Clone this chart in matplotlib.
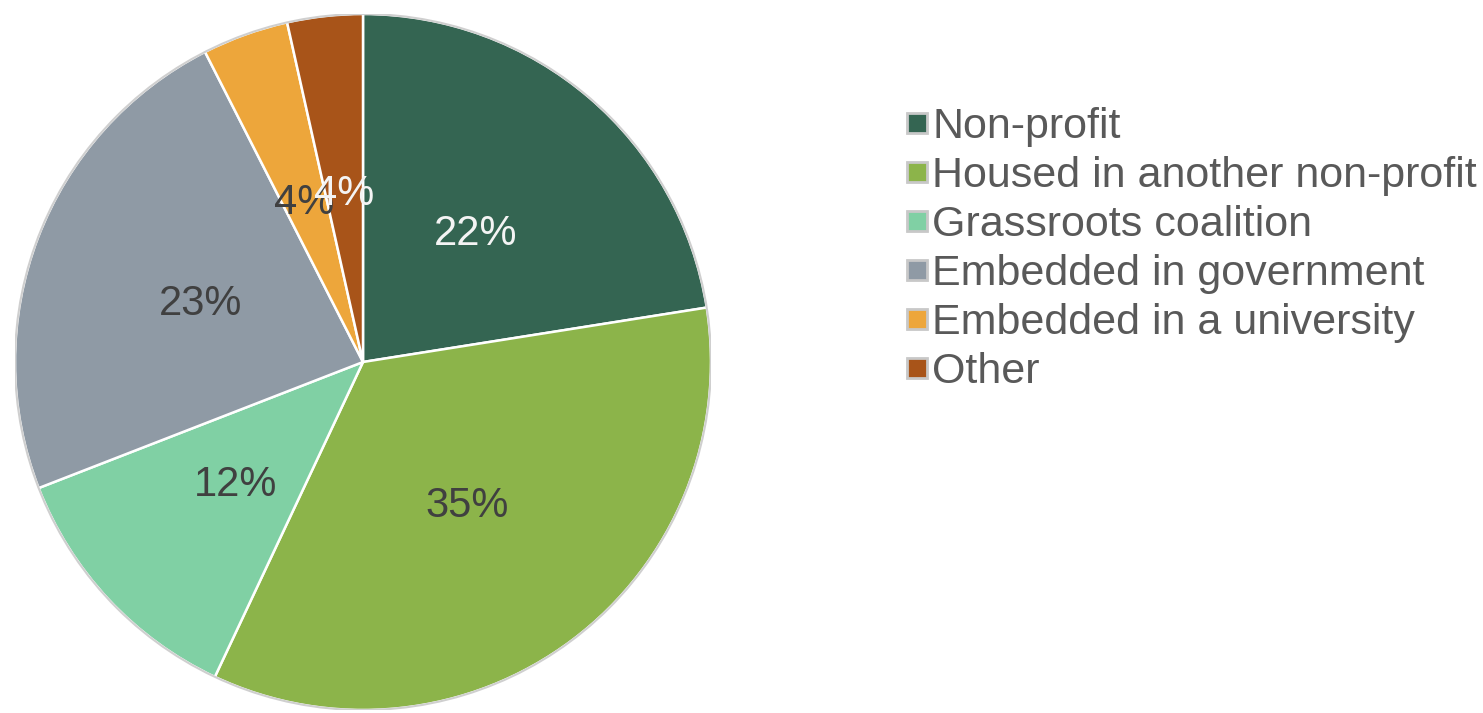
import matplotlib.pyplot as plt
from matplotlib.lines import Line2D
from matplotlib.patches import Circle

categories = ["Non-profit", "Housed in another non-profit", "Grassroots coalition",
              "Embedded in government", "Embedded in a university", "Other"]
shares = [22.5, 34.5, 12.1, 23.4, 4.0, 3.5]
pct_labels = ["22%", "35%", "12%", "23%", "4%", "4%"]
colors = ["#346552", "#8cb44a", "#80d0a4", "#8f9aa5", "#eda63b", "#a85419"]
label_colors = ["#f4f4f4", "#404040", "#404040", "#404040", "#404040", "#f4f4f4"]

W, H = 1483, 713
fig = plt.figure(figsize=(W / 100, H / 100), dpi=100)
plt.rcParams['font.family'] = ['Liberation Sans', 'DejaVu Sans']

# pie: center (363, 362) px, radius 348 px
cx, cy, r = 363, 362, 348
ax = fig.add_axes([(cx - r) / W, (H - cy - r) / H, 2 * r / W, 2 * r / H])
wedges, texts, autotexts = ax.pie(
    shares, colors=colors, startangle=90, counterclock=False,
    autopct='%1.0f%%', pctdistance=0.5,
    wedgeprops=dict(edgecolor='white', linewidth=1.8),
    textprops=dict(fontsize=30))
for t, s, c in zip(autotexts, pct_labels, label_colors):
    t.set_text(s)
    t.set_color(c)
    t.set_va('center_baseline')
ax.add_patch(Circle((0, 0), 1.0, fill=False, edgecolor='#cfcfcf', lw=1.5))
ax.set_xlim(-1.0, 1.0)
ax.set_ylim(-1.0, 1.0)
ax.set_aspect('equal')
ax.axis('off')

handles = [Line2D([], [], linestyle='none', marker='s', markersize=14,
                  markerfacecolor=c, markeredgecolor='#c8c8c8', markeredgewidth=2)
           for c in colors]
fig.legend(handles, categories, loc='upper left',
           bbox_to_anchor=(905 / W, 1 - 107 / H), frameon=False,
           fontsize=31, labelcolor='#595959', handlelength=0.55,
           handletextpad=0.08, labelspacing=0.21, borderpad=0, borderaxespad=0)

fig.savefig("out.png", dpi=100)
